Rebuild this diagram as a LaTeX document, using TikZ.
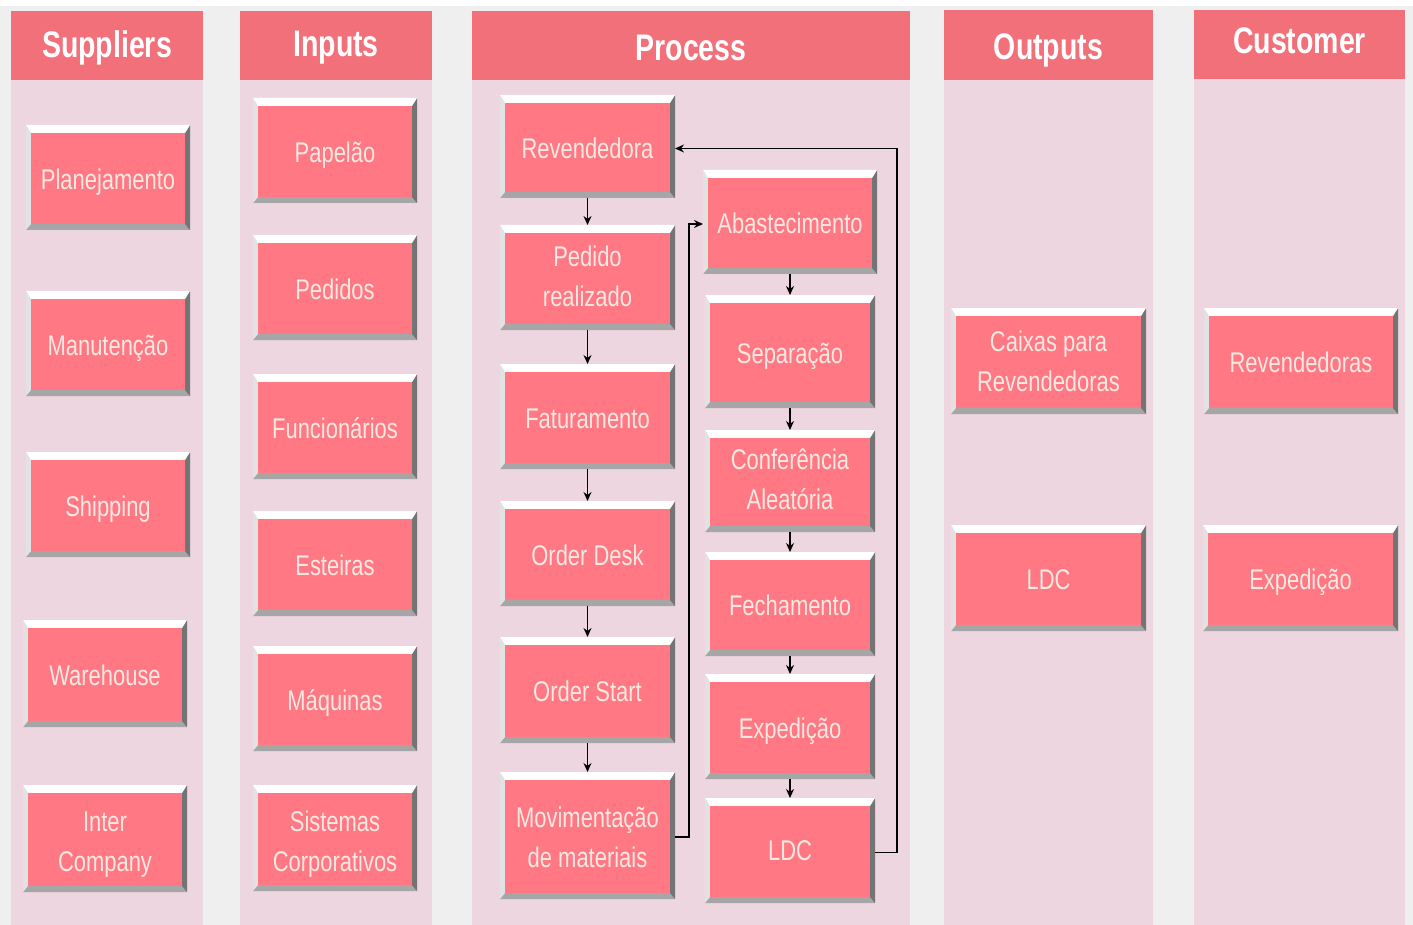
\documentclass[tikz,border=0pt]{standalone}
\usepackage{fontspec}
\setmainfont[FakeStretch=0.77]{Liberation Sans}
\usetikzlibrary{arrows.meta}
\definecolor{pagebg}{HTML}{EFEFEF}
\definecolor{colbg}{HTML}{EDD6E0}
\definecolor{headbg}{HTML}{F27079}
\definecolor{boxfill}{HTML}{FF7883}
\definecolor{boxtext}{HTML}{F8E8E2}
\definecolor{bevleft}{HTML}{E2E2E2}
\definecolor{bevright}{HTML}{747474}
\definecolor{bevbot}{HTML}{A6A6A6}
\tikzset{
  box/.style={draw=none, fill=bevbot, inner sep=0pt, outer sep=0pt, align=center,
    text=boxtext, font=\fontsize{28.5}{40}\selectfont,
    path picture={
      \coordinate (nw) at (path picture bounding box.north west);
      \coordinate (ne) at (path picture bounding box.north east);
      \coordinate (sw) at (path picture bounding box.south west);
      \coordinate (se) at (path picture bounding box.south east);
      \fill[bevbot] (sw) -- (se) -- ([xshift=-5pt,yshift=6pt]se) -- ([xshift=5pt,yshift=6pt]sw) -- cycle;
      \fill[bevright] (ne) -- (se) -- ([xshift=-5pt,yshift=6pt]se) -- ([xshift=-5pt,yshift=-8pt]ne) -- cycle;
      \fill[bevleft] (nw) -- (sw) -- ([xshift=5pt,yshift=6pt]sw) -- ([xshift=5pt,yshift=-8pt]nw) -- cycle;
      \fill[white] (nw) -- (ne) -- ([xshift=-5pt,yshift=-8pt]ne) -- ([xshift=5pt,yshift=-8pt]nw) -- cycle;
      \fill[boxfill] ([xshift=5pt,yshift=6pt]sw) rectangle ([xshift=-5pt,yshift=-8pt]ne);
    }},
  header/.style={fill=headbg, inner sep=0pt, outer sep=0pt, text=white,
    font=\bfseries\fontsize{37}{40}\selectfont},
  column/.style={fill=colbg},
  arr/.style={draw=black, line width=1.3pt, -{Stealth[length=9pt,width=8pt]}},
}
\newcommand\bx[7][-10pt]{\node[box,minimum width={#5-#3},minimum height={#6-#4}] (#2) at ({(#3+#5)/2},{(#4+#6)/2}) {\raisebox{#1}[0pt][0pt]{\begin{tabular}{@{}c@{}}#7\end{tabular}}};}
\newcommand\hd[7]{\node[header,minimum width={#4-#2},minimum height={#5-#3}] (#1) at ({(#2+#4)/2},{(#3+#5)/2}) {\raisebox{\dimexpr-13.2pt-#7\relax}[0pt][0pt]{#6}};}
\begin{document}
\begin{tikzpicture}[x=1pt,y=-1pt]
\useasboundingbox (0,0) rectangle (1413,925);
\fill[pagebg] (0,0) rectangle (1413,925);
\fill[white] (0,0) rectangle (1413,6);
% columns
\fill[column] (11,80) rectangle (203,925);
\fill[column] (240,80) rectangle (432,925);
\fill[column] (472,80) rectangle (910,925);
\fill[column] (944,80) rectangle (1153,925);
\fill[column] (1194,79) rectangle (1405,925);
% headers
\hd{hsup}{11}{11}{203}{80}{Suppliers}{-1pt}
\hd{hinp}{240}{11}{432}{80}{Inputs}{-2.5pt}
\hd{hpro}{472}{11}{910}{80}{Process}{2pt}
\hd{hout}{944}{10}{1153}{80}{Outputs}{1.5pt}
\hd{hcus}{1194}{10}{1405}{79}{Customer}{-4.5pt}
% suppliers
\bx{plan}{26}{125}{190}{230}{Planejamento}
\bx{manu}{26}{291}{190}{396}{Manutenção}
\bx{ship}{26}{452}{190}{557}{Shipping}
\bx{ware}{23}{620}{187}{727}{Warehouse}
\bx[-11.3pt]{inter}{23}{785}{187}{892}{Inter\\Company}
% inputs
\bx{papel}{253}{98}{417}{203}{Papelão}
\bx{pedidos}{253}{235}{417}{340}{Pedidos}
\bx{func}{253}{374}{417}{479}{Funcionários}
\bx{esteiras}{253}{511}{417}{616}{Esteiras}
\bx{maq}{253}{646}{417}{751}{Máquinas}
\bx[-11.3pt]{sist}{253}{785}{417}{891}{Sistemas\\Corporativos}
% process left
\bx{rev}{500}{95}{675}{198}{Revendedora}
\bx[-7pt]{ped}{500}{225}{675}{330}{Pedido\\realizado}
\bx{fat}{500}{364}{675}{469}{Faturamento}
\bx{odesk}{500}{501}{675}{606}{Order Desk}
\bx{ostart}{500}{637}{675}{743}{Order Start}
\bx[-10.3pt]{mov}{500}{772}{675}{899}{Movimentação\\de materiais}
% process right
\bx{aba}{703}{170}{877}{274}{Abastecimento}
\bx{sep}{705}{295}{875}{408}{Separação}
\bx[-6.5pt]{conf}{705}{430}{875}{532}{Conferência\\Aleatória}
\bx{fech}{705}{552}{875}{656}{Fechamento}
\bx{exp}{705}{674}{875}{779}{Expedição}
\bx[-8pt]{ldcp}{705}{798}{875}{903}{LDC}
% outputs
\bx[-8.3pt]{caixas}{951}{308}{1146}{414}{Caixas para\\Revendedoras}
\bx{ldco}{951}{525}{1146}{631}{LDC}
% customer
\bx{revc}{1204}{308}{1398}{414}{Revendedoras}
\bx{expc}{1203}{525}{1398}{631}{Expedição}
% arrows
\draw[arr] (rev) -- (ped);
\draw[arr] (ped) -- (fat);
\draw[arr] (fat) -- (odesk);
\draw[arr] (odesk) -- (ostart);
\draw[arr] (ostart) -- (mov);
\draw[arr] (aba.south -| sep.north) -- (sep.north);
\draw[arr] (sep) -- (conf);
\draw[arr] (conf) -- (fech);
\draw[arr] (fech) -- (exp);
\draw[arr] (exp) -- (ldcp);
\draw[arr] ([yshift=-2pt]ldcp.east) -- ++(22,0) |- ([yshift=-2pt]rev.east);
\draw[arr] ([yshift=-1.5pt]mov.east) -- ++(14,0) |- ([yshift=-2pt]aba.west);
\end{tikzpicture}
\end{document}
